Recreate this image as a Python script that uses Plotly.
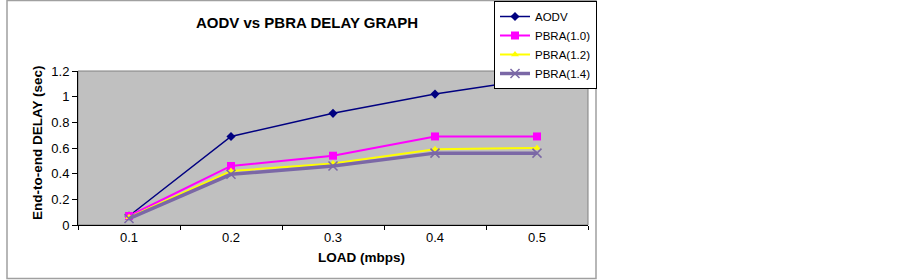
import plotly.graph_objects as go

loads = ["0.1", "0.2", "0.3", "0.4", "0.5"]
aodv = [0.07, 0.69, 0.87, 1.02, 1.14]
pbra_10 = [0.07, 0.46, 0.54, 0.69, 0.69]
pbra_12 = [0.06, 0.42, 0.48, 0.59, 0.60]
pbra_14 = [0.05, 0.395, 0.46, 0.56, 0.56]
y_ticks = [0, 0.2, 0.4, 0.6, 0.8, 1, 1.2]
y_tick_text = ["0", "0.2", "0.4", "0.6", "0.8", "1", "1.2"]

FONT = "Liberation Sans, Arial, sans-serif"

fig = go.Figure()
fig.add_trace(go.Scatter(x=loads, y=aodv, name="AODV", mode="lines+markers",
                         line=dict(color="#000080", width=1.5),
                         marker=dict(symbol="diamond", size=7, color="#000080")))
fig.add_trace(go.Scatter(x=loads, y=pbra_10, name="PBRA(1.0)", mode="lines+markers",
                         line=dict(color="#FF00FF", width=2),
                         marker=dict(symbol="square", size=8, color="#FF00FF")))
fig.add_trace(go.Scatter(x=loads, y=pbra_12, name="PBRA(1.2)", mode="lines+markers",
                         line=dict(color="#FFFF00", width=2),
                         marker=dict(symbol="triangle-up", size=7, color="#FFFF00")))
fig.add_trace(go.Scatter(x=loads, y=pbra_14, name="PBRA(1.4)", mode="lines+markers",
                         line=dict(color="#7B68A6", width=3.5),
                         marker=dict(symbol="x-thin", size=9,
                                     line=dict(color="#7B68A6", width=1.5))))

fig.update_layout(
    width=902, height=280,
    margin=dict(l=78, r=314, t=71, b=55, autoexpand=False),
    paper_bgcolor="white",
    plot_bgcolor="#C0C0C0",
    font=dict(family=FONT, size=13, color="black"),
    showlegend=True,
    legend=dict(x=(494 - 78) / 510, y=(225 - 1) / 154, xanchor="left", yanchor="top",
                bgcolor="white", bordercolor="black", borderwidth=1,
                font=dict(family=FONT, size=11.5, color="black"),
                itemwidth=30, tracegroupgap=0),
)
fig.update_xaxes(type="category", range=[-0.5, 4.5], showgrid=False,
                 showline=True, linecolor="black", linewidth=1,
                 ticks="outside", ticklen=4, tickson="boundaries",
                 tickcolor="black", tickfont=dict(size=13))
fig.update_yaxes(range=[0, 1.2], tickvals=y_ticks, ticktext=y_tick_text,
                 showgrid=False, zeroline=False,
                 showline=True, linecolor="black", linewidth=1,
                 ticks="outside", ticklen=5, tickcolor="black",
                 tickfont=dict(size=13))

# plot area border
fig.add_shape(type="rect", xref="paper", yref="paper", x0=0, x1=1, y0=0, y1=1,
              line=dict(color="#808080", width=1), layer="below")
# outer chart frame
fig.add_shape(type="rect", xref="paper", yref="paper",
              x0=(7 - 78) / 510, x1=(596 - 78) / 510,
              y0=(225 - 278.5) / 154, y1=(225 - 0.5) / 154,
              line=dict(color="#A0A0A0", width=1.5))

fig.add_annotation(text="<b>AODV vs PBRA DELAY GRAPH</b>", xref="paper", yref="paper",
                   x=(307 - 78) / 510, y=(225 - 22) / 154, showarrow=False,
                   font=dict(family=FONT, size=15, color="black"),
                   xanchor="center", yanchor="middle")
fig.add_annotation(text="<b>LOAD (mbps)</b>", xref="paper", yref="paper",
                   x=(361 - 78) / 510, y=(225 - 257) / 154, showarrow=False,
                   font=dict(family=FONT, size=13.5, color="black"),
                   xanchor="center", yanchor="middle")
fig.add_annotation(text="<b>End-to-end DELAY (sec)</b>", xref="paper", yref="paper",
                   x=(37 - 78) / 510, y=(225 - 143) / 154, showarrow=False,
                   textangle=-90,
                   font=dict(family=FONT, size=13.5, color="black"),
                   xanchor="center", yanchor="middle")

fig.write_html("out.html", config={"displayModeBar": False},
               post_script="document.body.style.margin='0';")
